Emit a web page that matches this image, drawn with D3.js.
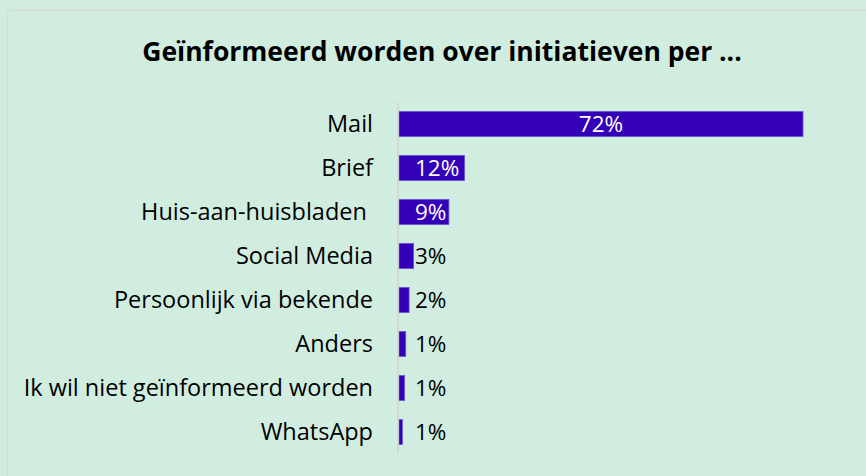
<!DOCTYPE html>
<html><head><meta charset="utf-8">
<script src="https://cdn.jsdelivr.net/npm/d3@7"></script>
<style>
html,body{margin:0;padding:0;background:#d1ede0;}
svg{display:block;}
</style></head>
<body>
<svg id="chart" width="866" height="476"></svg>
<script>
const title = "Geïnformeerd worden over initiatieven per ...";
const categories = ["Mail","Brief","Huis-aan-huisbladen ","Social Media","Persoonlijk via bekende","Anders","Ik wil niet geïnformeerd worden","WhatsApp"];
const values = [72.1, 11.7, 8.9, 2.6, 1.8, 1.2, 1.0, 0.6];
const labelPos = ["center","inside","inside","outside","outside","outside","outside","outside"];

const W = 866, H = 476;
const svg = d3.select("#chart");
const font = "'Open Sans', 'Noto Sans', sans-serif";

svg.append("rect").attr("x",0).attr("y",0).attr("width",W).attr("height",H).attr("fill","#d1ede0");
svg.append("rect").attr("x",7.5).attr("y",10.5).attr("width",W+10).attr("height",H+10)
  .attr("fill","#d1ede0").attr("stroke","#d9d9d9").attr("stroke-width",1.5);

svg.append("text").attr("x",442).attr("y",61).attr("text-anchor","middle")
  .attr("font-family",font).attr("font-weight","bold").attr("font-size",26.5).attr("fill","#000")
  .text(title);

const x = d3.scaleLinear().domain([0,72.1]).range([399,803]);
const y = d3.scaleBand().domain(categories).range([102,454]).paddingInner(0.43).paddingOuter(0.215);

const g = svg.append("g");
g.selectAll("rect.bar").data(values).join("rect").attr("class","bar")
  .attr("x",x(0)).attr("y",(d,i)=>y(categories[i]))
  .attr("width",d=>x(d)-x(0)).attr("height",y.bandwidth())
  .attr("fill","#3300b8").attr("stroke","#6a55d6").attr("stroke-width",0.8);

// axis line
g.append("line").attr("x1",x(0)-1).attr("x2",x(0)-1).attr("y1",102).attr("y2",453)
  .attr("stroke","#d4d4d4").attr("stroke-width",1.5);

// category labels
const yAxis = d3.axisLeft(y).tickSize(0).tickPadding(0);
const ax = svg.append("g").attr("transform",`translate(${x(0)-26},0)`).call(yAxis);
ax.select(".domain").remove();
ax.selectAll("text").attr("font-family",font).attr("font-size",23.5).attr("fill","#000")
  .attr("dy","0.35em").style("white-space","pre");

// value labels
const fmt = d => Math.round(d) + "%";
g.selectAll("text.val").data(values).join("text").attr("class","val")
  .attr("x",(d,i)=> labelPos[i]==="center" ? (x(0)+x(d))/2 : x(0)+16)
  .attr("text-anchor",(d,i)=> labelPos[i]==="center" ? "middle" : "start")
  .attr("y",(d,i)=>y(categories[i])+y.bandwidth()/2).attr("dy","0.35em")
  .attr("font-family",font).attr("font-size",22.5)
  .attr("fill",(d,i)=> labelPos[i]==="outside" ? "#000" : "#fff")
  .text(fmt);
</script>
</body></html>
